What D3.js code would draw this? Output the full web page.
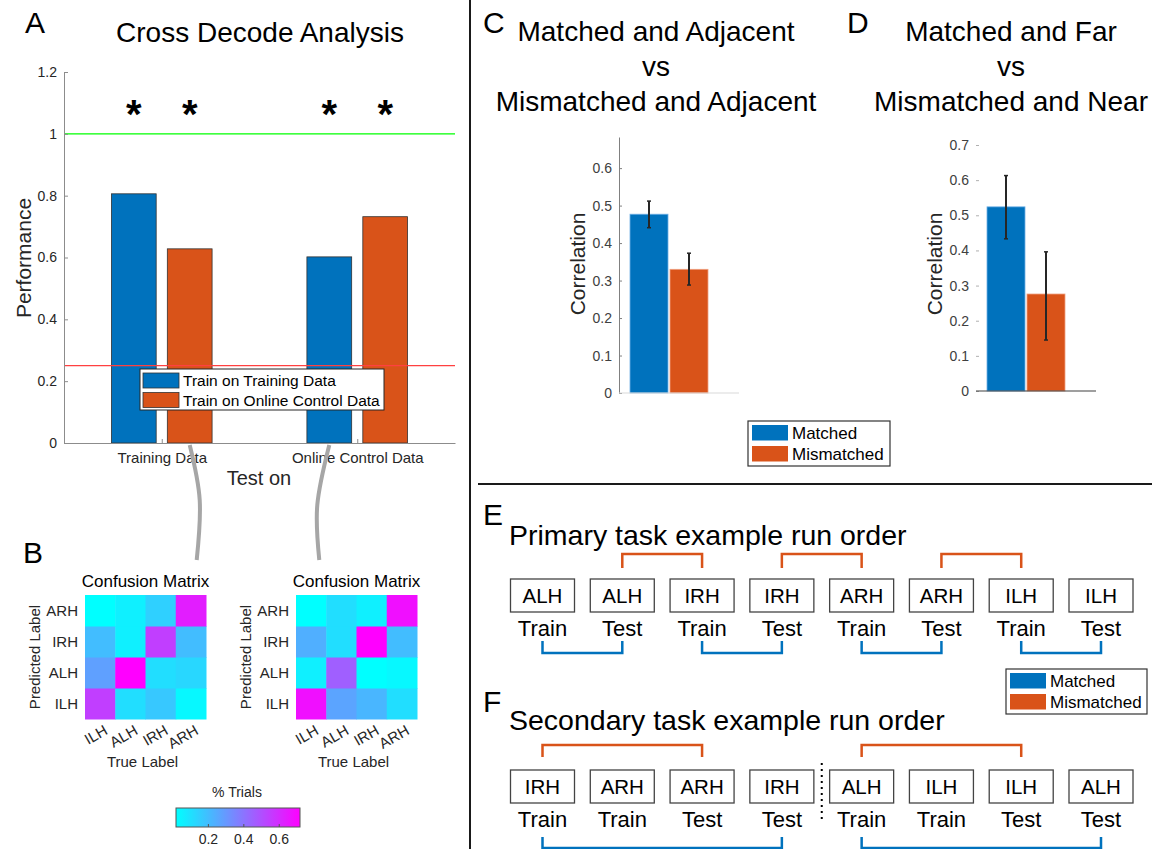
<!DOCTYPE html>
<html>
<head>
<meta charset="utf-8">
<script src="https://cdn.jsdelivr.net/npm/d3@7"></script>
<style>
  body { margin: 0; background: #fff; }
  svg { display: block; font-family: "Liberation Sans", Arial, sans-serif; }
</style>
</head>
<body>
<svg id="fig" width="1157" height="849"></svg>
<script>
// ---- data ----
const crossGroups = ["Training Data", "Online Control Data"];
const crossSeries = ["Train on Training Data", "Train on Online Control Data"];
const trainOnTraining = [0.806, 0.602];
const trainOnOnline = [0.628, 0.732];
const crossSignificant = [[true, true], [true, true]];
const chanceLevel = 0.25;
const perfectLevel = 1;
const perfTicks = [0, 0.2, 0.4, 0.6, 0.8, 1, 1.2];

const cmLabels = ["ILH", "ALH", "IRH", "ARH"];
// rows = predicted label (ILH..ARH), columns = true label (ILH..ARH)
const cmTrainingData = [
  [0.55, 0.11, 0.17, 0.04],
  [0.28, 0.72, 0.11, 0.13],
  [0.20, 0.06, 0.55, 0.20],
  [0.02, 0.06, 0.15, 0.64]
];
const cmOnlineData = [
  [0.68, 0.27, 0.22, 0.11],
  [0.06, 0.46, 0.02, 0.04],
  [0.24, 0.11, 0.72, 0.20],
  [0.02, 0.11, 0.06, 0.68]
];
const colorLimits = [0.02, 0.72];
const colorTicks = [0.2, 0.4, 0.6];

const corrGroups = ["Matched", "Mismatched"];
const adjMean = [0.477, 0.330];
const adjLow = [0.441, 0.288];
const adjHigh = [0.512, 0.373];
const adjTicks = [0, 0.1, 0.2, 0.3, 0.4, 0.5, 0.6];
const farMean = [0.524, 0.276];
const farLow = [0.433, 0.145];
const farHigh = [0.613, 0.396];
const farTicks = [0, 0.1, 0.2, 0.3, 0.4, 0.5, 0.6, 0.7];

const primaryTargets = ["ALH", "ALH", "IRH", "IRH", "ARH", "ARH", "ILH", "ILH"];
const primaryRoles = ["Train", "Test", "Train", "Test", "Train", "Test", "Train", "Test"];
const primaryMatched = [[0, 1], [2, 3], [4, 5], [6, 7]];
const primaryMismatched = [[1, 2], [3, 4], [5, 6]];
const secondaryTargets = ["IRH", "ARH", "ARH", "IRH", "ALH", "ILH", "ILH", "ALH"];
const secondaryRoles = ["Train", "Train", "Test", "Test", "Train", "Train", "Test", "Test"];
const secondaryMatched = [[0, 3], [4, 7]];
const secondaryMismatched = [[0, 2], [4, 6]];

// ---- setup ----
const blue = "#0072BD", orange = "#D95319", ink = "#262626";
const svg = d3.select("#fig");
svg.append("rect").attr("width", 1157).attr("height", 849).attr("fill", "#fff");

// panel dividers
svg.append("line").attr("x1", 470).attr("x2", 470).attr("y1", 0).attr("y2", 849)
  .attr("stroke", "#1a1a1a").attr("stroke-width", 2);
svg.append("line").attr("x1", 478).attr("x2", 1152).attr("y1", 484).attr("y2", 484)
  .attr("stroke", "#1a1a1a").attr("stroke-width", 2);

// panel letters
const letters = [["A", 25, 33], ["B", 23, 563], ["C", 483, 33], ["D", 847, 33], ["E", 483, 525], ["F", 483, 712]];
svg.selectAll(".letter").data(letters).join("text")
  .attr("class", "letter")
  .attr("x", d => d[1]).attr("y", d => d[2])
  .attr("font-size", 30).attr("fill", "#000")
  .text(d => d[0]);

function styleAxis(g, lineColor, textSize) {
  g.attr("font-family", null).attr("font-size", textSize);
  g.selectAll("text").attr("fill", ink);
  g.selectAll("line").attr("stroke", lineColor);
  g.select(".domain").attr("stroke", lineColor);
}

// ---- Panel A: cross decode ----
const xA = d3.scaleLinear().domain([0.5, 2.5]).range([64, 455]);
const yA = d3.scaleLinear().domain([0, 1.2]).range([443, 72]);
const barOff = 0.143, barW = 0.229;
const seriesA = [trainOnTraining, trainOnOnline];
const gA = svg.append("g");

svg.append("text").attr("x", 260).attr("y", 42).attr("text-anchor", "middle")
  .attr("font-size", 28).text("Cross Decode Analysis");

seriesA.forEach((vals, s) => {
  gA.selectAll(null).data(vals).join("rect")
    .attr("x", (d, i) => xA(i + 1 + (s ? barOff : -barOff) - barW / 2))
    .attr("width", xA(barW) - xA(0))
    .attr("y", d => yA(d))
    .attr("height", d => yA(0) - yA(d))
    .attr("fill", s ? orange : blue)
    .attr("stroke", "#333").attr("stroke-width", 0.8);
});

// reference lines
gA.append("line").attr("x1", xA.range()[0]).attr("x2", xA.range()[1])
  .attr("y1", yA(perfectLevel)).attr("y2", yA(perfectLevel))
  .attr("stroke", "#00ff00").attr("stroke-width", 1.2);
gA.append("line").attr("x1", xA.range()[0]).attr("x2", xA.range()[1])
  .attr("y1", yA(chanceLevel)).attr("y2", yA(chanceLevel))
  .attr("stroke", "#ff4040").attr("stroke-width", 1.2);

// significance stars
crossSignificant.forEach((row, i) => row.forEach((sig, s) => {
  if (!sig) return;
  gA.append("text")
    .attr("x", xA(i + 1 + (s ? barOff : -barOff)))
    .attr("y", yA(perfectLevel) - 6)
    .attr("text-anchor", "middle").attr("font-size", 40).attr("font-weight", "bold")
    .text("*");
}));

const axYA = gA.append("g").attr("transform", `translate(${xA.range()[0]},0)`)
  .call(d3.axisLeft(yA).tickValues(perfTicks).tickSize(-4).tickSizeOuter(0)
    .tickPadding(7).tickFormat(d3.format("~g")));
styleAxis(axYA, "#8c8c8c", 14);
const axXA = gA.append("g").attr("transform", `translate(0,${yA(0)})`)
  .call(d3.axisBottom(xA).tickValues([1, 2]).tickSize(-4).tickSizeOuter(0)
    .tickPadding(9).tickFormat((d, i) => crossGroups[i]));
styleAxis(axXA, "#8c8c8c", 15);

gA.append("text").attr("transform", "translate(31,258) rotate(-90)")
  .attr("text-anchor", "middle").attr("font-size", 21).attr("fill", ink).text("Performance");
gA.append("text").attr("x", 259).attr("y", 485)
  .attr("text-anchor", "middle").attr("font-size", 20).attr("fill", ink).text("Test on");

// legend A
const legA = gA.append("g");
legA.append("rect").attr("x", 140).attr("y", 369).attr("width", 244).attr("height", 41)
  .attr("fill", "#fff").attr("stroke", ink).attr("stroke-width", 1);
crossSeries.forEach((name, s) => {
  legA.append("rect").attr("x", 143).attr("y", 373 + s * 19.5).attr("width", 36).attr("height", 15)
    .attr("fill", s ? orange : blue).attr("stroke", "#333").attr("stroke-width", 0.8);
  legA.append("text").attr("x", 183).attr("y", 386 + s * 19.5)
    .attr("font-size", 15.5).attr("fill", "#000").text(name);
});

// connectors from the bars down to the confusion matrices
const connector = d3.line().curve(d3.curveNatural);
const cOrange1 = xA(1 + barOff), cBlue2 = xA(2 - barOff);
const connectors = [
  [[cOrange1, 445], [cOrange1 + 10, 500], [cOrange1 + 7, 560]],
  [[cBlue2, 445], [cBlue2 - 12, 505], [cBlue2 - 10, 560]]
];
gA.selectAll(".conn").data(connectors).join("path")
  .attr("d", connector).attr("fill", "none")
  .attr("stroke", "#a6a6a6").attr("stroke-width", 4);

// ---- Panel B: confusion matrices ----
const cmColor = d3.scaleLinear().domain(colorLimits).range(["#00ffff", "#ff00ff"]);
const rowOrder = cmLabels.slice().reverse();

function drawMatrix(data, x0, x1, y0, y1) {
  const g = svg.append("g");
  const xB = d3.scaleBand().domain(cmLabels).range([x0, x1]);
  const yB = d3.scaleBand().domain(rowOrder).range([y0, y1]);
  const cells = [];
  data.forEach((row, r) => row.forEach((v, c) => cells.push({ pred: cmLabels[r], truth: cmLabels[c], v })));
  g.selectAll("rect").data(cells).join("rect")
    .attr("x", d => xB(d.truth)).attr("y", d => yB(d.pred))
    .attr("width", xB.bandwidth() + 0.5).attr("height", yB.bandwidth() + 0.5)
    .attr("fill", d => cmColor(d.v));
  g.selectAll(".ylab").data(rowOrder).join("text")
    .attr("x", x0 - 7).attr("y", d => yB(d) + yB.bandwidth() / 2)
    .attr("dy", "0.35em").attr("text-anchor", "end")
    .attr("font-size", 15).attr("fill", ink).text(d => d);
  g.selectAll(".xlab").data(cmLabels).join("text")
    .attr("transform", d => `translate(${xB(d) + xB.bandwidth() / 2 + 3},${y1 + 5}) rotate(-30)`)
    .attr("dy", "0.72em").attr("text-anchor", "end")
    .attr("font-size", 15).attr("fill", ink).text(d => d);
  const cx = (x0 + x1) / 2;
  g.append("text").attr("x", cx).attr("y", y0 - 8).attr("text-anchor", "middle")
    .attr("font-size", 17).attr("fill", "#000").text("Confusion Matrix");
  g.append("text").attr("x", cx - 3).attr("y", y1 + 48).attr("text-anchor", "middle")
    .attr("font-size", 15).attr("fill", ink).text("True Label");
  g.append("text").attr("transform", `translate(${x0 - 45},${(y0 + y1) / 2}) rotate(-90)`)
    .attr("text-anchor", "middle").attr("font-size", 15).attr("fill", ink).text("Predicted Label");
}
drawMatrix(cmTrainingData, 85, 206, 595, 719);
drawMatrix(cmOnlineData, 296, 417, 595, 719);

// colorbar
const cbX = d3.scaleLinear().domain(colorLimits).range([176, 300]);
const defs = svg.append("defs");
const grad = defs.append("linearGradient").attr("id", "cool");
grad.selectAll("stop").data(colorLimits).join("stop")
  .attr("offset", (d, i) => i * 100 + "%").attr("stop-color", d => cmColor(d));
svg.append("rect").attr("x", 176).attr("y", 808).attr("width", 124).attr("height", 19)
  .attr("fill", "url(#cool)").attr("stroke", "#555").attr("stroke-width", 1);
const axCb = svg.append("g").attr("transform", "translate(0,827)")
  .call(d3.axisBottom(cbX).tickValues(colorTicks).tickSize(-3).tickSizeOuter(0)
    .tickPadding(7).tickFormat(d3.format("~g")));
styleAxis(axCb, "#555", 14);
axCb.select(".domain").remove();
svg.append("text").attr("x", 237).attr("y", 797).attr("text-anchor", "middle")
  .attr("font-size", 14).attr("fill", ink).text("% Trials");

// ---- Panels C and D: correlation bars ----
function drawCorr(opt) {
  const g = svg.append("g");
  const x = d3.scaleLinear().domain([0.25, 3.25]).range(opt.xr);
  const y = d3.scaleLinear().domain(opt.yd).range(opt.yr);
  const bw = 0.95;
  g.selectAll("rect").data(opt.mean).join("rect")
    .attr("x", (d, i) => x(i + 1 - bw / 2)).attr("width", x(bw) - x(0))
    .attr("y", d => y(d)).attr("height", d => y(0) - y(d))
    .attr("fill", (d, i) => i ? orange : blue)
    .attr("stroke", (d, i) => i ? "#f0a080" : "#6fb0e6").attr("stroke-width", 0.8);
  opt.mean.forEach((m, i) => {
    const cx = x(i + 1);
    g.append("line").attr("x1", cx).attr("x2", cx)
      .attr("y1", y(opt.low[i])).attr("y2", y(opt.high[i]))
      .attr("stroke", ink).attr("stroke-width", 2);
    [opt.low[i], opt.high[i]].forEach(v => g.append("line")
      .attr("x1", cx - 2).attr("x2", cx + 2).attr("y1", y(v)).attr("y2", y(v))
      .attr("stroke", ink).attr("stroke-width", 1.5));
  });
  const ay = g.append("g").attr("transform", `translate(${opt.xr[0]},0)`)
    .call(d3.axisLeft(y).tickValues(opt.ticks).tickSize(-3).tickSizeOuter(0)
      .tickPadding(7).tickFormat(d3.format("~g")));
  styleAxis(ay, opt.yAxisColor, 14);
  ay.selectAll("text").attr("fill", "#404040");
  if (!opt.yDomain) ay.select(".domain").remove();
  g.append("line").attr("x1", opt.xr[0]).attr("x2", opt.xr[1])
    .attr("y1", y(0)).attr("y2", y(0))
    .attr("stroke", opt.xAxisColor).attr("stroke-width", 1.2);
  g.append("text").attr("transform", `translate(${opt.labelX},264) rotate(-90)`)
    .attr("text-anchor", "middle").attr("font-size", 21).attr("fill", ink).text("Correlation");
  opt.title.forEach((t, k) => g.append("text")
    .attr("x", opt.titleX).attr("y", 41 + k * 35).attr("text-anchor", "middle")
    .attr("font-size", 28).attr("fill", "#000").text(t));
}
drawCorr({
  mean: adjMean, low: adjLow, high: adjHigh, ticks: adjTicks,
  xr: [619, 739], yd: [0, 0.683], yr: [393, 137],
  yAxisColor: "#808080", yDomain: true, xAxisColor: "#d9d9d9",
  labelX: 585, titleX: 656,
  title: ["Matched and Adjacent", "vs", "Mismatched and Adjacent"]
});
drawCorr({
  mean: farMean, low: farLow, high: farHigh, ticks: farTicks,
  xr: [976, 1096], yd: [0, 0.7], yr: [391, 145],
  yAxisColor: "#b0b0b0", yDomain: false, xAxisColor: "#404040",
  labelX: 942, titleX: 1011,
  title: ["Matched and Far", "vs", "Mismatched and Near"]
});

function drawLegend(x, y, w, h, rowGap) {
  const g = svg.append("g");
  g.append("rect").attr("x", x).attr("y", y).attr("width", w).attr("height", h)
    .attr("fill", "#fff").attr("stroke", "#333").attr("stroke-width", 1.2);
  corrGroups.forEach((name, i) => {
    g.append("rect").attr("x", x + 4).attr("y", y + 4 + i * rowGap).attr("width", 36).attr("height", 15.5)
      .attr("fill", i ? orange : blue);
    g.append("text").attr("x", x + 44).attr("y", y + 18 + i * rowGap)
      .attr("font-size", 17).attr("fill", "#000").text(name);
  });
}
drawLegend(748, 421, 142, 45, 21);
drawLegend(1006, 669, 141, 45, 21);

// ---- Panels E and F: run orders ----
const xRun = d3.scalePoint().domain(d3.range(8)).range([542.5, 1101]);
const boxW = 64, boxH = 33;

function drawRuns(opt) {
  const g = svg.append("g");
  g.append("text").attr("x", 509).attr("y", opt.titleY)
    .attr("font-size", 28.5).attr("fill", "#000").text(opt.title);
  const idx = d3.range(opt.targets.length);
  g.selectAll("rect").data(idx).join("rect")
    .attr("x", i => xRun(i) - boxW / 2).attr("y", opt.boxY)
    .attr("width", boxW).attr("height", boxH)
    .attr("fill", "#fff").attr("stroke", "#444").attr("stroke-width", 1.3);
  g.selectAll(".tgt").data(idx).join("text")
    .attr("x", i => xRun(i)).attr("y", opt.boxY + boxH / 2).attr("dy", "0.36em")
    .attr("text-anchor", "middle").attr("font-size", 20.5).attr("fill", "#000")
    .text(i => opt.targets[i]);
  g.selectAll(".role").data(idx).join("text")
    .attr("x", i => xRun(i)).attr("y", opt.roleY)
    .attr("text-anchor", "middle").attr("font-size", 22).attr("fill", "#000")
    .text(i => opt.roles[i]);
  const bracket = (a, b, yEnd, yBar) =>
    `M${xRun(a)},${yEnd}V${yBar}H${xRun(b)}V${yEnd}`;
  g.selectAll(".mis").data(opt.mismatched).join("path")
    .attr("d", p => bracket(p[0], p[1], opt.misY[1], opt.misY[0]))
    .attr("fill", "none").attr("stroke", orange).attr("stroke-width", 2.5);
  g.selectAll(".mat").data(opt.matched).join("path")
    .attr("d", p => bracket(p[0], p[1], opt.matY[0], opt.matY[1]))
    .attr("fill", "none").attr("stroke", blue).attr("stroke-width", 2.5);
  if (opt.split != null) {
    const sx = (xRun(opt.split) + xRun(opt.split + 1)) / 2;
    g.append("line").attr("x1", sx).attr("x2", sx).attr("y1", opt.boxY - 7).attr("y2", opt.roleY - 4)
      .attr("stroke", "#000").attr("stroke-width", 2).attr("stroke-dasharray", "2,4");
  }
}
drawRuns({
  title: "Primary task example run order", titleY: 545,
  targets: primaryTargets, roles: primaryRoles,
  matched: primaryMatched, mismatched: primaryMismatched,
  boxY: 579, roleY: 636, misY: [554, 568], matY: [641, 653]
});
drawRuns({
  title: "Secondary task example run order", titleY: 730,
  targets: secondaryTargets, roles: secondaryRoles,
  matched: secondaryMatched, mismatched: secondaryMismatched,
  boxY: 770, roleY: 827, misY: [745, 757], matY: [837, 848], split: 3
});
</script>
</body>
</html>
